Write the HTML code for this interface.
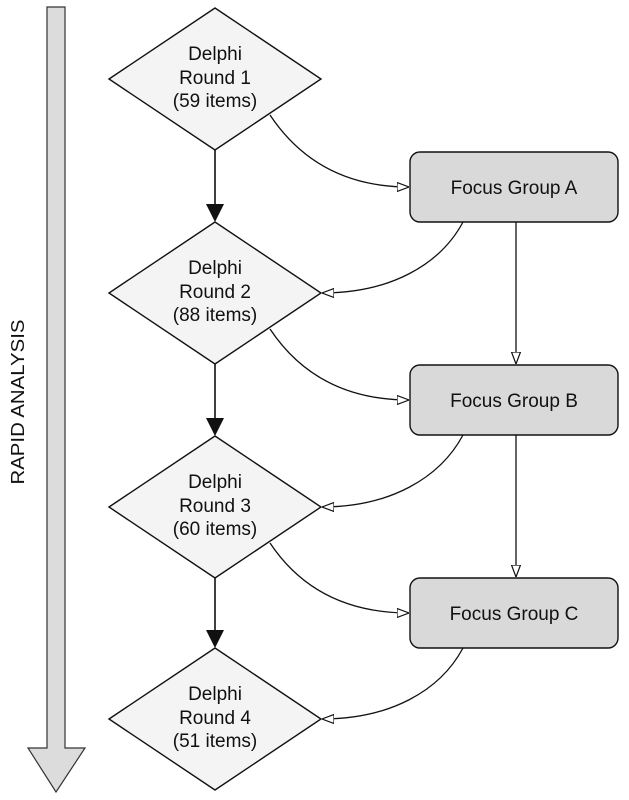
<!DOCTYPE html>
<html><head><style>
html,body{margin:0;padding:0;background:#fff;}
svg{display:block;}
text{font-family:"Liberation Sans",Arial,sans-serif;fill:#111;}
</style></head><body>
<svg width="629" height="800" viewBox="0 0 629 800" xmlns="http://www.w3.org/2000/svg">
<defs>
<marker id="oa" viewBox="0 0 12 10" refX="12" refY="5" markerWidth="12" markerHeight="10" orient="auto" markerUnits="userSpaceOnUse">
<path d="M0,0.5 L12,5 L0,9.5 Z" fill="#fff" stroke="#111" stroke-width="1.2"/>
</marker>
</defs>
<path d="M47,7 L65,7 L65,748 L85,748 L56,792 L28,748 L47,748 Z" fill="#dcdcdc" stroke="#333" stroke-width="1.2"/>
<text x="0" y="0" font-size="18" text-anchor="middle" transform="translate(24,402) rotate(-90)" textLength="165" lengthAdjust="spacingAndGlyphs">RAPID ANALYSIS</text>

<g fill="#f4f4f4" stroke="#111" stroke-width="1.4">
<path d="M215,8 L321,79 L215,150 L109,79 Z"/>
<path d="M215,222 L321,293 L215,364 L109,293 Z"/>
<path d="M215,436 L321,507 L215,578 L109,507 Z"/>
<path d="M215,648 L321,719 L215,790 L109,719 Z"/>
</g>
<g font-size="19" text-anchor="middle">
<text x="215" y="60">Delphi</text><text x="215" y="84">Round 1</text><text x="215" y="107">(59 items)</text>
<text x="215" y="274">Delphi</text><text x="215" y="298">Round 2</text><text x="215" y="321">(88 items)</text>
<text x="215" y="488">Delphi</text><text x="215" y="512">Round 3</text><text x="215" y="535">(60 items)</text>
<text x="215" y="700">Delphi</text><text x="215" y="724">Round 4</text><text x="215" y="747">(51 items)</text>
</g>

<g fill="#d9d9d9" stroke="#111" stroke-width="1.4">
<rect x="410" y="152" width="208" height="70" rx="10"/>
<rect x="410" y="365" width="208" height="70" rx="10"/>
<rect x="410" y="578" width="208" height="70" rx="10"/>
</g>
<g font-size="19" text-anchor="middle">
<text x="514" y="194">Focus Group A</text>
<text x="514" y="407">Focus Group B</text>
<text x="514" y="620">Focus Group C</text>
</g>

<g stroke="#111" stroke-width="1.6" fill="#111">
<line x1="215" y1="150" x2="215" y2="206"/><path d="M206,204 L224,204 L215,222 Z" stroke="none"/>
<line x1="215" y1="364" x2="215" y2="420"/><path d="M206,418 L224,418 L215,436 Z" stroke="none"/>
<line x1="215" y1="578" x2="215" y2="632"/><path d="M206,630 L224,630 L215,648 Z" stroke="none"/>
</g>

<g fill="none" stroke="#111" stroke-width="1.3" marker-end="url(#oa)">
<path d="M270,115 C300,160 345,187 409,187"/>
<path d="M463,222 C440,265 390,293 322,293"/>
<path d="M270,329 C300,374 345,400 409,400"/>
<path d="M463,435 C440,478 390,507 322,507"/>
<path d="M270,543 C300,588 345,613 409,613"/>
<path d="M463,648 C440,691 390,719 322,719"/>
<path d="M516,222 L516,364"/>
<path d="M516,435 L516,577"/>
</g>
</svg>
</body></html>
